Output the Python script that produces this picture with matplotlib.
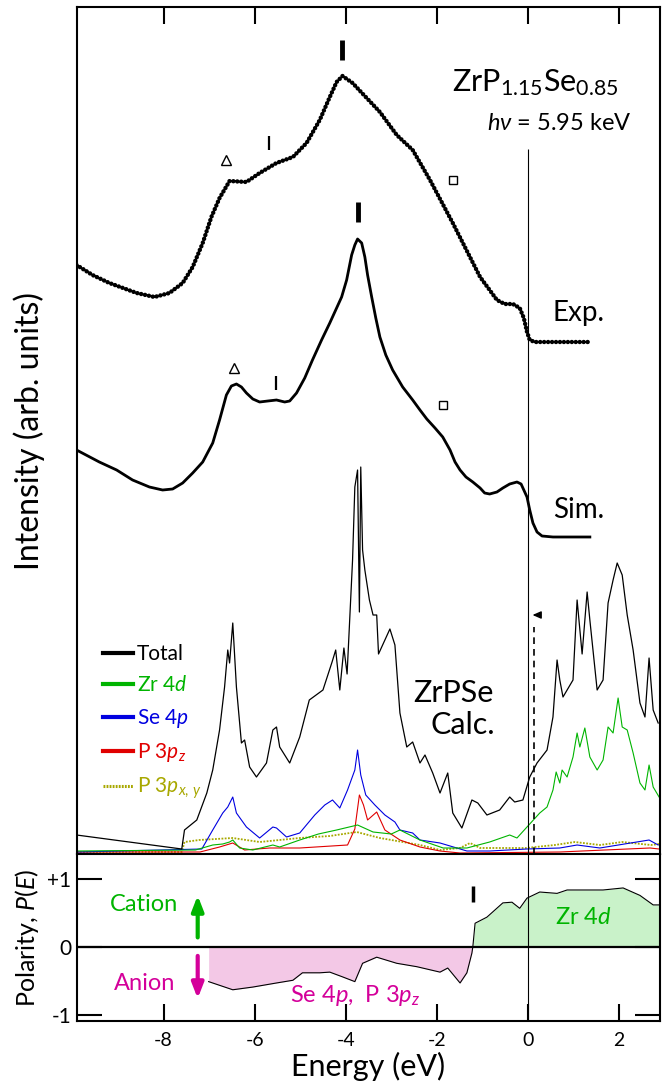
import numpy as np
import matplotlib
matplotlib.use("Agg")
import matplotlib.pyplot as plt
from matplotlib.lines import Line2D

plt.rcParams['font.family'] = ['Lato', 'DejaVu Sans']
plt.rcParams['mathtext.fontset'] = 'custom'
plt.rcParams['mathtext.rm'] = 'Lato'
plt.rcParams['mathtext.it'] = 'Lato:italic'
plt.rcParams['mathtext.bf'] = 'Lato:bold'

# --- Data (energy in eV, intensity in arb. units) ---
# HAXPES spectrum (Exp.)
exp_E = [-9.91, -9.56, -9.19, -8.59, -8.20, -7.87, -7.58, -7.36, -7.14, -6.95, -6.77, -6.55,
         -6.18, -5.89, -5.52, -5.16, -4.86, -4.57, -4.35, -4.20, -4.07, -3.85, -3.54, -3.25,
         -2.88, -2.53, -2.15, -1.65, -1.05, -0.68, -0.51, -0.33, -0.18, -0.09, -0.02, 0.04,
         0.15, 1.36]
exp_I = [589, 579, 571, 561, 557, 561, 571, 587, 611, 637, 656, 673,
         672, 681, 691, 697, 711, 734, 757, 772, 778, 771, 756, 742,
         719, 704, 674, 631, 577, 554, 550, 550, 546, 536, 522, 514,
         512, 512]

# simulated spectrum (Sim.)
sim_E = [-9.91, -9.41, -9.03, -8.68, -8.31, -8.02, -7.80, -7.58, -7.36, -7.14, -6.92, -6.77,
         -6.62, -6.51, -6.40, -6.29, -6.18, -6.04, -5.89, -5.71, -5.52, -5.34, -5.23, -5.08,
         -4.90, -4.73, -4.53, -4.35, -4.20, -4.09, -3.98, -3.87, -3.80, -3.74, -3.65, -3.58,
         -3.52, -3.43, -3.34, -3.25, -3.12, -2.97, -2.75, -2.53, -2.37, -2.22, -2.04, -1.87,
         -1.71, -1.60, -1.49, -1.36, -1.21, -1.05, -0.95, -0.84, -0.68, -0.55, -0.40, -0.24,
         -0.15, -0.09, -0.02, 0.04, 0.11, 0.20, 0.31, 0.55, 1.36]
sim_I = [404, 392, 384, 374, 367, 364, 365, 371, 381, 392, 411, 434,
         459, 468, 470, 467, 461, 455, 452, 453, 454, 452, 453, 461,
         476, 494, 514, 531, 546, 557, 574, 599, 609, 615, 611, 597,
         579, 557, 536, 517, 499, 484, 467, 454, 444, 435, 426, 417,
         404, 392, 384, 377, 372, 366, 361, 360, 362, 366, 370, 372,
         370, 364, 357, 344, 331, 322, 318, 317, 317]

# calculated DOS (ZrPSe)
tot_E = [-9.91, -7.60, -7.54, -7.27, -7.05, -6.92, -6.77, -6.66, -6.59, -6.55, -6.48, -6.40,
         -6.29, -6.22, -6.11, -5.96, -5.74, -5.60, -5.52, -5.45, -5.23, -5.01, -4.80, -4.50,
         -4.30, -4.22, -4.13, -4.04, -3.97, -3.85, -3.80, -3.74, -3.70, -3.67, -3.63, -3.58,
         -3.48, -3.40, -3.32, -3.28, -3.14, -3.03, -2.92, -2.81, -2.66, -2.53, -2.37, -2.26,
         -2.09, -1.93, -1.76, -1.65, -1.45, -1.23, -1.10, -0.90, -0.62, -0.40, -0.29, -0.11,
         0.04, 0.20, 0.42, 0.55, 0.64, 0.70, 0.77, 0.99, 1.08, 1.19, 1.30, 1.36,
         1.52, 1.65, 1.76, 1.87, 1.96, 2.07, 2.18, 2.31, 2.46, 2.57, 2.66, 2.75,
         2.86]
tot_I = [19, 5, 24, 34, 61, 84, 124, 167, 204, 191, 231, 167,
         111, 114, 87, 77, 91, 124, 127, 107, 91, 117, 154, 164,
         192, 204, 164, 206, 180, 294, 367, 384, 242, 387, 304, 284,
         254, 239, 239, 200, 214, 225, 209, 141, 107, 112, 91, 99,
         81, 61, 81, 41, 26, 54, 51, 39, 44, 57, 52, 54,
         77, 91, 104, 137, 194, 174, 157, 174, 254, 200, 262, 234,
         164, 174, 251, 274, 291, 279, 239, 204, 151, 137, 196, 144,
         131]

zr_E = [-9.91, -7.30, -6.92, -6.70, -6.55, -6.48, -6.33, -6.04, -5.60, -5.45, -5.01, -4.60,
        -4.20, -3.74, -3.40, -3.00, -2.81, -2.37, -1.86, -1.34, -0.84, -0.40, -0.24, -0.02,
        0.26, 0.42, 0.55, 0.62, 0.70, 0.75, 0.86, 0.99, 1.08, 1.14, 1.25, 1.36,
        1.52, 1.65, 1.76, 1.87, 1.98, 2.07, 2.18, 2.31, 2.46, 2.57, 2.66, 2.75,
        2.88]
zr_I = [3, 4, 9, 10, 12, 14, 6, 4, 9, 7, 14, 20,
        24, 29, 22, 20, 24, 14, 6, 6, 12, 19, 16, 27,
        41, 47, 64, 82, 71, 84, 77, 97, 121, 107, 126, 97,
        84, 94, 127, 121, 156, 127, 124, 101, 71, 64, 89, 67,
        57]

se_E = [-9.91, -7.16, -6.92, -6.70, -6.59, -6.48, -6.40, -6.18, -5.89, -5.60, -5.52, -5.30,
        -5.01, -4.68, -4.46, -4.29, -4.13, -3.96, -3.80, -3.74, -3.67, -3.56, -3.36, -3.14,
        -2.92, -2.81, -2.53, -2.37, -1.93, -1.34, -0.84, -0.02, 0.70, 1.08, 1.58, 2.66,
        2.86]
se_I = [2, 5, 24, 41, 47, 57, 41, 27, 16, 27, 26, 17,
        21, 39, 49, 54, 46, 64, 84, 104, 79, 59, 49, 39,
        32, 24, 21, 14, 11, 3, 3, 5, 6, 9, 6, 14,
        9]

pz_E = [-9.91, -7.20, -6.77, -6.48, -6.22, -5.67, -5.01, -3.96, -3.80, -3.70, -3.61, -3.52,
        -3.32, -3.14, -2.81, -2.37, -1.93, -1.49, 0.70, 2.68, 2.88]
pz_I = [2, 2, 7, 11, 4, 6, 6, 9, 25, 59, 49, 34,
        42, 24, 14, 7, 3, 1, 2, 6, 5]

pxy_E = [-9.91, -7.60, -7.54, -7.22, -6.48, -5.89, -5.01, -4.35, -3.76, -3.25, -2.37, -1.93,
         -1.49, -1.27, -1.05, -0.04, 0.59, 1.03, 1.58, 2.07, 2.70, 2.88]
pxy_I = [2, 2, 12, 14, 16, 12, 16, 18, 22, 16, 9, 4,
         6, 11, 6, 6, 9, 12, 9, 12, 9, 10]

# polarity P(E)
pol_E = [-7.01, -6.48, -6.04, -5.52, -5.16, -4.95, -4.57, -4.35, -4.07, -3.80, -3.63, -3.32,
         -2.88, -2.44, -1.93, -1.76, -1.49, -1.34, -1.23, -1.21, -1.16, -0.90, -0.55, -0.35,
         -0.18, -0.02, 0.26, 0.64, 0.86, 1.21, 1.65, 2.09, 2.46, 2.75, 2.90]
pol_P = [-0.51, -0.63, -0.59, -0.53, -0.49, -0.38, -0.38, -0.37, -0.44, -0.51, -0.24, -0.15,
         -0.24, -0.29, -0.37, -0.31, -0.53, -0.38, -0.09, 0.0, 0.35, 0.44, 0.65, 0.66,
         0.57, 0.72, 0.81, 0.79, 0.84, 0.84, 0.84, 0.87, 0.76, 0.62, 0.62]

# feature marks (energy, height)
exp_tri = (-6.62, 694)
exp_bar = (-5.69, 711)
exp_peak = (-4.09, 804)
exp_sq = (-1.65, 674)
sim_tri = (-6.46, 486)
sim_bar = (-5.54, 471)
sim_peak = (-3.74, 642)
sim_sq = (-1.87, 449)
pol_bar = (-1.21, 0.78)

c_zr = '#00b400'
c_se = '#0000e0'
c_pz = '#e00000'
c_pxy = '#a8a800'
c_an = '#d4009a'

fig = plt.figure(figsize=(6.7, 10.88), dpi=100)
ax = fig.add_axes([77/670, 1 - 854/1088, 583/670, 847/1088])
ax2 = fig.add_axes([77/670, 1 - 1021/1088, 583/670, 167/1088])

xlim = (-9.9, 2.9)

# --- top panel ---
ax.plot(exp_E, exp_I, color='k', lw=3.2, linestyle=(0, (0.01, 0.88)), dash_capstyle='round')
ax.plot(sim_E, sim_I, color='k', lw=2.0)
ax.plot(pxy_E, pxy_I, color=c_pxy, lw=1.3, linestyle=(0, (1, 0.8)))
ax.plot(pz_E, pz_I, color=c_pz, lw=0.8)
ax.plot(se_E, se_I, color=c_se, lw=0.8)
ax.plot(zr_E, zr_I, color=c_zr, lw=0.8)
ax.plot(tot_E, tot_I, color='k', lw=0.9)

ax.vlines(0, 0, 705, color='k', lw=0.8)
ax.vlines(0.13, 0, 227, color='k', lw=1.2, linestyles=(0, (4, 3)))
ax.annotate('', xy=(0.04, 239), xytext=(0.3, 239),
            arrowprops=dict(arrowstyle='-|>,head_length=0.5,head_width=0.22', color='k', lw=1.0))

for p in (exp_tri, sim_tri):
    ax.plot(*p, marker='^', ms=7, mfc='white', mec='k', mew=1.0)
for p in (exp_sq, sim_sq):
    ax.plot(*p, marker='s', ms=5.5, mfc='white', mec='k', mew=1.0)
for p in (exp_bar, sim_bar):
    ax.plot(*p, marker='|', ms=10, mec='k', mew=1.6)
for p in (exp_peak, sim_peak):
    ax.plot(*p, marker='|', ms=14, mec='k', mew=3.5)

ax.text(-1.67, 771, 'ZrP$_{1.15}$Se$_{0.85}$', fontsize=22, ha='left', va='center')
ax.text(-0.90, 731, r'$h\nu$ = 5.95 keV', fontsize=17, ha='left', va='center')
ax.text(0.53, 541, 'Exp.', fontsize=20, ha='left', va='center')
ax.text(0.55, 344, 'Sim.', fontsize=20, ha='left', va='center')
ax.text(-0.75, 161, 'ZrPSe', fontsize=22, ha='right', va='center')
ax.text(-0.73, 129, 'Calc.', fontsize=22, ha='right', va='center')

handles = [Line2D([], [], color='k', lw=3),
           Line2D([], [], color=c_zr, lw=3),
           Line2D([], [], color=c_se, lw=3),
           Line2D([], [], color=c_pz, lw=3),
           Line2D([], [], color=c_pxy, lw=2.2, linestyle=(0, (0.6, 0.4)))]
labels = ['Total', 'Zr 4$d$', 'Se 4$p$', 'P 3$p_z$', r'P 3$p_{x,\,y}$']
leg = ax.legend(handles, labels, loc='upper left', bbox_to_anchor=(0.045, 0.248),
                frameon=False, fontsize=15, handlelength=1.45, handletextpad=0.15,
                labelspacing=0.55, borderpad=0, borderaxespad=0)
for t, c in zip(leg.get_texts(), ['k', c_zr, c_se, c_pz, c_pxy]):
    t.set_color(c)

ax.set_xlim(xlim)
ax.set_ylim(0, 847)
ax.set_yticks([])
ax.set_xticks([-8, -6, -4, -2, 0, 2])
ax.tick_params(axis='x', which='both', direction='in', top=True, bottom=False,
               labelbottom=False, length=12, width=1.5)
ax.set_ylabel('Intensity (arb. units)', fontsize=23)
ax.yaxis.set_label_coords(-0.055, 0.5)
for s in ax.spines.values():
    s.set_linewidth(1.5)
ax.spines['bottom'].set_linewidth(0.8)

# --- bottom panel ---
pol_E = np.array(pol_E)
pol_P = np.array(pol_P)
ax2.fill_between(pol_E, pol_P, 0, where=pol_P <= 0, interpolate=True, color='#f3c8e6', lw=0)
ax2.fill_between(pol_E, pol_P, 0, where=pol_P >= 0, interpolate=True, color='#c9f2c9', lw=0)
ax2.plot(pol_E, pol_P, color='k', lw=0.8)
ax2.axhline(0, color='k', lw=1.6)
ax2.axvline(0, color='k', lw=0.8)
ax2.plot(*pol_bar, marker='|', ms=12, mec='k', mew=2.5)

ax2.annotate('', xy=(-7.25, 0.80), xytext=(-7.25, 0.10),
             arrowprops=dict(arrowstyle='-|>,head_length=0.9,head_width=0.35', color=c_zr, lw=3))
ax2.annotate('', xy=(-7.25, -0.80), xytext=(-7.25, -0.09),
             arrowprops=dict(arrowstyle='-|>,head_length=0.9,head_width=0.35', color=c_an, lw=3))
ax2.text(-8.42, 0.62, 'Cation', color=c_zr, fontsize=17, ha='center', va='center')
ax2.text(-8.42, -0.54, 'Anion', color=c_an, fontsize=17, ha='center', va='center')
ax2.text(1.21, 0.44, 'Zr 4$d$', color=c_zr, fontsize=17, ha='center', va='center')
ax2.text(-3.80, -0.71, 'Se 4$p$,  P 3$p_z$', color=c_an, fontsize=17, ha='center', va='center')

ax2.set_xlim(xlim)
ax2.set_ylim(-1.09, 1.37)
ax2.set_xticks([-8, -6, -4, -2, 0, 2])
ax2.set_xticklabels(['-8', '-6', '-4', '-2', '0', '2'])
ax2.set_yticks([1, 0, -1])
ax2.set_yticklabels(['+1', '0', '-1'])
ax2.tick_params(axis='x', direction='in', length=12, width=1.5, labelsize=14, pad=8)
ax2.tick_params(axis='y', direction='in', length=18, width=1.5, labelsize=15, right=True, pad=4)
ax2.set_xlabel('Energy (eV)', fontsize=22, labelpad=2)
ax2.set_ylabel('Polarity, $P$($E$)', fontsize=18)
ax2.yaxis.set_label_coords(-0.062, 0.5)
for s in ax2.spines.values():
    s.set_linewidth(1.5)

fig.savefig('out.png', dpi=100)
